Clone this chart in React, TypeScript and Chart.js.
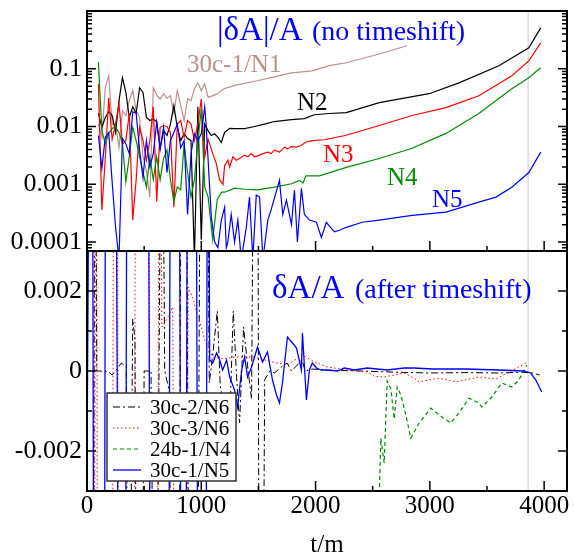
import React, { useEffect, useRef } from 'react';
import { Chart, registerables } from 'chart.js';

Chart.register(...registerables);

// ---------------- axis values ----------------
const xTickValues = [0, 1000, 2000, 3000, 4000];
const xMinorTickValues = [500, 1500, 2500, 3500];
const topTickValues = [0.0001, 0.001, 0.01, 0.1];
const topTickLabels = ['0.0001', '0.001', '0.01', '0.1'];
const bottomTickValues = [-0.002, 0, 0.002];
const bottomTickLabels = ['-0.002', '0', '0.002'];
const bottomMinorTickValues = [-0.001, 0.001];
const matchTime = 3860;

// ---------------- top panel: |dA|/A (no timeshift) ----------------
const noisyT = [100, 130, 160, 190, 220, 250, 280, 310, 340, 370, 400, 430, 460, 490, 520, 550,
  580, 610, 640, 670, 700, 730, 760, 790, 820, 850, 880, 910, 940, 970, 1000, 1030];

const n1NoisyV = [0.011, 0.0065, 0.047, 0.076, 0.011, 0.011, 0.0043, 0.019, 0.0155, 0.028, 0.042, 0.019,
  0.0143, 0.003, 0.0017, 0.0006, 0.047, 0.035, 0.03, 0.037, 0.031, 0.034, 0.017, 0.042, 0.023, 0.0127,
  0.03, 0.028, 0.045, 0.057, 0.042, 0.055];
const n1T = [1060, 1130, 1200, 1300, 1490, 1684, 1790, 1972, 2120, 2269, 2557, 2800];
const n1V = [0.032, 0.036, 0.045, 0.052, 0.062, 0.076, 0.085, 0.092, 0.113, 0.127, 0.18, 0.25];

const n2NoisyV = [0.017, 0.0097, 0.0143, 0.018, 0.0155, 0.0079, 0.028, 0.07, 0.039, 0.0143, 0.022, 0.017,
  0.047, 0.039, 0.0143, 0.0127, 0.0135, 0.012, 0.0043, 0.0085, 0.007, 0.011, 0.023, 0.0097, 0.0057,
  0.0075, 0.0062, 0.0057, 0.00005, 0.022, 0.00011, 0.011];
const n2T = [1059, 1088, 1117, 1146, 1175, 1204, 1248, 1291, 1379, 1466, 1553, 1640, 1789, 1902, 1990,
  2120, 2269, 2557, 2993, 3255, 3604, 3866, 3970];
const n2V = [0.0085, 0.007, 0.0075, 0.0065, 0.0053, 0.0079, 0.0093, 0.0092, 0.0092, 0.010, 0.011, 0.0122,
  0.0132, 0.0137, 0.016, 0.0168, 0.0174, 0.026, 0.037, 0.057, 0.113, 0.23, 0.51];

const n3NoisyV = [0.055, 0.00036, 0.0028, 0.031, 0.006, 0.011, 0.025, 0.005, 0.0057, 0.017, 0.00024, 0.0012,
  0.0097, 0.0057, 0.0026, 0.0057, 0.022, 0.0005, 0.0097, 0.0104, 0.01, 0.0079, 0.0004, 0.011, 0.0127,
  0.0065, 0.0127, 0.011, 0.0057, 0.011, 0.03, 0.003];
const n3T = [1060, 1100, 1131, 1160, 1190, 1204, 1233, 1248, 1277, 1306, 1335, 1379, 1408, 1437, 1466,
  1495, 1539, 1582, 1611, 1640, 1684, 1728, 1757, 1786, 1830, 1873, 1917, 1972, 2077, 2260, 2557, 2845,
  3141, 3429, 3717, 3866, 3970];
const n3V = [0.006, 0.0034, 0.0023, 0.0012, 0.001, 0.0021, 0.0026, 0.002, 0.003, 0.0026, 0.0028, 0.0032,
  0.003, 0.0034, 0.003, 0.0031, 0.0034, 0.0036, 0.0034, 0.0039, 0.0036, 0.0044, 0.0041, 0.0045, 0.0044,
  0.0047, 0.0054, 0.0057, 0.0059, 0.007, 0.0104, 0.0155, 0.0213, 0.034, 0.076, 0.137, 0.28];

const n4NoisyV = [0.13, 0.0085, 0.005, 0.0075, 0.0093, 0.0097, 0.0079, 0.0051, 0.0011, 0.003, 0.0097, 0.0057,
  0.003, 0.0016, 0.0009, 0.003, 0.0012, 0.003, 0.0012, 0.0028, 0.0039, 0.0012, 0.0005, 0.0009, 0.0008,
  0.005, 0.0016, 0.0006, 0.0012, 0.0057, 0.02, 0.0009];
const n4T = [1060, 1100, 1140, 1178, 1204, 1291, 1380, 1490, 1640, 1789, 1859, 1890, 1915, 2033, 2269,
  2557, 2845, 3141, 3429, 3717, 3866, 3970];
const n4V = [0.0006, 0.00011, 0.00055, 0.00073, 0.00073, 0.00086, 0.00082, 0.0008, 0.00089, 0.00102,
  0.00117, 0.00105, 0.0014, 0.0014, 0.00196, 0.0028, 0.0042, 0.0076, 0.0168, 0.045, 0.07, 0.104];

const n5NoisyV = [0.007, 0.0019, 0.0065, 0.0079, 0.0011, 0.00018, 0.00005, 0.0062, 0.005, 0.0034, 0.018,
  0.017, 0.0039, 0.0013, 0.0057, 0.002, 0.0034, 0.012, 0.004, 0.0097, 0.0016, 0.0057, 0.0079, 0.011,
  0.0043, 0.0057, 0.0003, 0.0034, 0.0075, 0.0057, 0.0075, 0.022];
const n5T = [1042, 1088, 1117, 1146, 1175, 1204, 1219, 1232, 1262, 1291, 1320, 1350, 1394, 1422, 1451,
  1481, 1510, 1539, 1582, 1611, 1684, 1713, 1745, 1789, 1815, 1841, 1876, 1902, 1946, 2007, 2051, 2094,
  2120, 2164, 2208, 2269, 2408, 2557, 2845, 3141, 3429, 3578, 3717, 3866, 3970];
const n5V = [0.011, 0.00027, 0.0001, 0.00008, 0.00024, 0.0004, 0.00008, 0.0001, 0.0003, 0.0001, 0.00024,
  0.00005, 0.00018, 0.0006, 0.00005, 0.00065, 0.0006, 0.00005, 0.00024, 0.00036, 0.00117, 0.0003, 0.00053,
  0.0002, 0.00079, 0.0001, 0.00085, 0.0003, 0.00024, 0.00022, 0.00012, 0.00022, 0.00019, 0.00015, 0.00016,
  0.00018, 0.00022, 0.00024, 0.00029, 0.00033, 0.00049, 0.0006, 0.00089, 0.0016, 0.0036];

// ---------------- bottom panel: dA/A (after timeshift) ----------------
const c2T = [40, 55, 70, 85, 120, 150, 180, 220, 250, 300, 345, 360, 400, 420, 440, 470, 500, 520, 560, 600,
  637, 650, 680, 720, 750, 800, 830, 860, 900, 960, 1000, 1040, 1070, 1100, 1140, 1165, 1200, 1248, 1280,
  1310, 1335, 1370, 1410, 1440, 1470, 1490, 1510, 1530, 1555, 1600, 1640, 1700, 1750, 1790, 1840, 1880,
  1910, 1970, 2100, 2400, 2700, 3000, 3300, 3600, 3800, 3900, 3960];
const c2V = [-0.012, -0.012, 0.012, 0, 0, -0.00003, 0, -0.0001, 0, 0.0002, 0.0001, -0.012, 0.0013, 0.0008,
  -0.012, -0.012, 0, 0, 0, -0.012, 0.0028, 0.012, 0, -0.0005, -0.012, -0.012, 0.012, 0.012, -0.012, -0.012,
  0.012, 0.012, -0.0003, 0.0004, 0.0015, -0.0003, -0.0012, -0.0013, 0.0015, -0.0002, -0.0013, 0.0011, 0,
  -0.0007, 0.012, 0.012, -0.012, -0.012, -0.00022, 0, -0.00005, 0.0001, 0.0002, 0, 0.00015, 0.00028, 0,
  0.00005, 0.00002, 0, -0.00003, -0.00005, -0.00004, -0.00005, -0.00003, -0.00005, -0.0001];

const c3T = [60, 80, 95, 220, 236, 262, 279, 410, 428, 535, 550, 620, 637, 655, 700, 750, 775, 860, 885, 930,
  960, 1000, 1030, 1100, 1200, 1300, 1466, 1614, 1754, 1885, 1990, 2103, 2278, 2452, 2513, 2600, 2775,
  2862, 2906, 3080, 3229, 3429, 3578, 3691, 3778, 3839];
const c3V = [-0.012, 0.012, -0.012, -0.012, 0.012, 0.012, -0.012, -0.012, 0.012, 0.012, -0.0031, -0.0031,
  0.012, 0.0011, 0.0013, 0.0016, -0.012, -0.012, 0.0021, 0.0018, 0.00145, 0.0011, 0.00078, 0.00035, 0.0003,
  0.00035, 0.00035, 0.00023, 0.00015, 0.0004, 0.00023, 0.0001, 0.00002, -0.00002, -0.00013, -0.00015,
  -0.00005, -0.00018, -0.00027, -0.00018, -0.00027, -0.00015, -0.0002, -0.00003, 0.0001, 0.0002];

const b24T = [2540, 2571, 2600, 2627, 2659, 2688, 2714, 2746, 2790, 2833, 2906, 3008, 3106, 3182, 3255,
  3342, 3429, 3456, 3543, 3630, 3717, 3778, 3848];
const b24V = [-0.005, -0.00168, -0.0023, -0.00025, -0.00045, -0.0012, -0.0004, -0.0006, -0.0011, -0.00168,
  -0.0013, -0.00093, -0.00115, -0.0013, -0.00105, -0.00068, -0.0008, -0.0009, -0.00065, -0.0003, -0.0004,
  -0.00023, 0.00015];

const c1T = [0, 30, 45, 62, 150, 165, 250, 262, 285, 310, 340, 355, 530, 560, 710, 735, 800, 830, 860, 885,
  950, 975, 1035, 1060, 1073, 1100, 1134, 1161, 1187, 1222, 1248, 1291, 1318, 1353, 1379, 1405, 1440, 1466,
  1492, 1536, 1579, 1623, 1658, 1684, 1710, 1754, 1798, 1833, 1876, 1885, 1920, 1946, 1972, 2007, 2051,
  2103, 2190, 2251, 2339, 2452, 2627, 2775, 2862, 3019, 3316, 3604, 3822, 3883, 3927, 3979];
const c1V = [-0.0025, 0.012, 0.012, -0.012, -0.012, 0.012, 0.012, 0.001, -0.012, -0.0032, -0.0032, 0.012,
  0.012, -0.012, -0.012, 0.012, 0.012, -0.012, -0.012, 0.012, 0.012, -0.012, -0.012, 0.012, 0.000275,
  0.0002, 0.00045, 0.000275, 0.000025, 0.000275, -0.00015, -0.000475, -0.0009, 0.000025, 0.00035, -0.00015,
  0.0001, 0.00035, 0.0006, 0.000225, 0.000475, -0.000225, -0.0006, -0.0008, -0.0003, 0.00085, 0.0007,
  0.000575, 0.000025, 0.00095, -0.000725, 0.000025, 0.0002, 0.000075, 0.000025, 0.000025, 0, 0.000075,
  0.000025, 0.000075, 0.000025, 0.000075, 0.000075, 0.00005, 0.00005, 0.000025, 0, -0.00005, -0.000225,
  -0.000525];

const legendLabels = ['30c-2/N6', '30c-3/N6', '24b-1/N4', '30c-1/N5'];

// ---------------- styling ----------------
const SERIF = '"Liberation Serif", "Times New Roman", serif';
const BROWN = '#bc8f8f';
const GREEN = '#008c00';
const BLUE = '#0000ff';
const PLOT_TOP = 11;

const pts = (ts: number[], vs: number[]) => ts.map((t, i) => ({ x: t, y: vs[i] }));

const panelPlugin = {
  id: 'panelPlugin',
  afterLayout(chart: any) {
    const { chartArea, scales } = chart;
    chartArea.top = PLOT_TOP;
    chartArea.height = chartArea.bottom - PLOT_TOP;
    const yt = scales.yTop;
    const yb = scales.yBottom;
    const mid = Math.round((PLOT_TOP + chartArea.bottom) / 2);
    yt.top = PLOT_TOP; yt.bottom = mid; yt.height = mid - PLOT_TOP;
    yb.top = mid; yb.bottom = chartArea.bottom; yb.height = chartArea.bottom - mid;
    yt.configure();
    yb.configure();
  },
  beforeDatasetsDraw(chart: any) {
    const { ctx, chartArea, scales } = chart;
    const x = scales.x.getPixelForValue(matchTime);
    ctx.save();
    ctx.strokeStyle = '#dcdcdc';
    ctx.lineWidth = 1.5;
    ctx.beginPath();
    ctx.moveTo(x, scales.yTop.top);
    ctx.lineTo(x, chartArea.bottom);
    ctx.stroke();
    ctx.restore();
  },
  beforeDatasetDraw(chart: any, args: any) {
    const { ctx, chartArea } = chart;
    const ys = chart.scales[args.meta.yAxisID];
    ctx.save();
    ctx.beginPath();
    ctx.rect(chartArea.left, ys.top, chartArea.right - chartArea.left, ys.bottom - ys.top);
    ctx.clip();
  },
  afterDatasetDraw(chart: any) {
    chart.ctx.restore();
  },
  afterDatasetsDraw(chart: any) {
    const { ctx, chartArea, scales } = chart;
    const xs = scales.x;
    const yt = scales.yTop;
    const yb = scales.yBottom;
    const L = chartArea.left;
    const R = chartArea.right;
    ctx.save();
    ctx.strokeStyle = '#000';
    ctx.lineWidth = 1.5;
    const hTick = (y: number, len: number) => {
      ctx.beginPath();
      ctx.moveTo(L, y); ctx.lineTo(L + len, y);
      ctx.moveTo(R, y); ctx.lineTo(R - len, y);
      ctx.stroke();
    };
    topTickValues.forEach(v => hTick(yt.getPixelForValue(v), 9));
    for (let d = -5; d <= 0; d++) {
      for (let k = 2; k <= 9; k++) {
        const v = k * Math.pow(10, d);
        if (v > yt.min && v < yt.max) hTick(yt.getPixelForValue(v), 5);
      }
    }
    bottomTickValues.forEach(v => hTick(yb.getPixelForValue(v), 9));
    bottomMinorTickValues.forEach(v => hTick(yb.getPixelForValue(v), 5));
    const vTicks = (yBase: number) => {
      xTickValues.forEach(v => {
        const px = xs.getPixelForValue(v);
        ctx.beginPath(); ctx.moveTo(px, yBase); ctx.lineTo(px, yBase - 10); ctx.stroke();
      });
      xMinorTickValues.forEach(v => {
        const px = xs.getPixelForValue(v);
        ctx.beginPath(); ctx.moveTo(px, yBase); ctx.lineTo(px, yBase - 5); ctx.stroke();
      });
    };
    vTicks(yb.bottom);
    vTicks(yt.bottom);

    // frames
    ctx.lineWidth = 2;
    ctx.strokeRect(L, yt.top, R - L, yt.bottom - yt.top);
    ctx.strokeRect(L, yb.top, R - L, yb.bottom - yb.top);

    // panel titles
    ctx.textBaseline = 'alphabetic';
    ctx.textAlign = 'left';
    ctx.fillStyle = BLUE;
    ctx.font = `33px ${SERIF}`;
    ctx.fillText('|\u03b4A|/A', 217, 40);
    ctx.font = `28px ${SERIF}`;
    ctx.fillText('(no timeshift)', 312, 40);
    ctx.font = `33px ${SERIF}`;
    ctx.fillText('\u03b4A/A', 272, 298);
    ctx.font = `28px ${SERIF}`;
    ctx.fillText('(after timeshift)', 355, 298);

    // curve labels
    ctx.font = `25px ${SERIF}`;
    ctx.fillStyle = BROWN; ctx.fillText('30c-1/N1', 187, 72);
    ctx.fillStyle = '#000'; ctx.fillText('N2', 297, 110);
    ctx.fillStyle = '#ff0000'; ctx.fillText('N3', 323, 162);
    ctx.fillStyle = GREEN; ctx.fillText('N4', 387, 185);
    ctx.fillStyle = BLUE; ctx.fillText('N5', 432, 207);

    // legend box
    const bx = 107, by = 393, bw = 129, bh = 88;
    ctx.fillStyle = '#fff';
    ctx.fillRect(bx, by, bw, bh);
    ctx.strokeStyle = '#333';
    ctx.lineWidth = 1.5;
    ctx.strokeRect(bx, by, bw, bh);
    const legendStyles = [
      { color: '#000', dash: [7, 3, 2, 3], width: 1 },
      { color: '#ff0000', dash: [1.5, 2.5], width: 1 },
      { color: GREEN, dash: [4, 3], width: 1.2 },
      { color: BLUE, dash: [], width: 1.3 },
    ];
    ctx.font = `21px ${SERIF}`;
    ctx.textBaseline = 'middle';
    legendLabels.forEach((lab, i) => {
      const y = 407 + i * 21;
      const st = legendStyles[i];
      ctx.strokeStyle = st.color;
      ctx.lineWidth = st.width;
      ctx.setLineDash(st.dash);
      ctx.beginPath(); ctx.moveTo(113, y); ctx.lineTo(141, y); ctx.stroke();
      ctx.setLineDash([]);
      ctx.fillStyle = '#000';
      ctx.fillText(lab, 150, y + 1);
    });
    ctx.restore();
  },
};

export default function App() {
  const ref = useRef<HTMLCanvasElement | null>(null);
  useEffect(() => {
    if (!ref.current) return;
    const tickFont = { family: SERIF, size: 26 };
    const line = (data: any[], color: string, yAxisID: string, width: number, dash: number[] = []) => ({
      data, borderColor: color, backgroundColor: color, borderWidth: width, borderDash: dash,
      pointRadius: 0, tension: 0, fill: false, yAxisID, xAxisID: 'x',
    });
    const chart = new Chart(ref.current, {
      type: 'line',
      data: {
        datasets: [
          line(pts(c1T, c1V), BLUE, 'yBottom', 1.3),
          line(pts(b24T, b24V), GREEN, 'yBottom', 1.2, [4, 3]),
          line(pts(c3T, c3V), '#ff0000', 'yBottom', 1, [1.5, 2.5]),
          line(pts(c2T, c2V), '#000', 'yBottom', 1, [7, 3, 2, 3]),
          line(pts([...noisyT, ...n5T], [...n5NoisyV, ...n5V]), BLUE, 'yTop', 1.2),
          line(pts([...noisyT, ...n4T], [...n4NoisyV, ...n4V]), GREEN, 'yTop', 1.2),
          line(pts([...noisyT, ...n3T], [...n3NoisyV, ...n3V]), '#ff0000', 'yTop', 1.2),
          line(pts([...noisyT, ...n2T], [...n2NoisyV, ...n2V]), '#000', 'yTop', 1.2),
          line(pts([...noisyT, ...n1T], [...n1NoisyV, ...n1V]), BROWN, 'yTop', 1.2),
        ],
      },
      options: {
        animation: false,
        responsive: false,
        devicePixelRatio: 1,
        parsing: false,
        normalized: true,
        layout: { padding: { top: 11, right: 7, left: 0, bottom: 0 } },
        plugins: { legend: { display: false }, tooltip: { enabled: false }, title: { display: false } },
        scales: {
          x: {
            type: 'linear', position: 'bottom', min: 0, max: 4200,
            afterBuildTicks: (s: any) => { s.ticks = xTickValues.map(v => ({ value: v })); },
            afterFit: (s: any) => { s.height = 67; },
            grid: { display: false, drawTicks: false },
            border: { display: false },
            ticks: { font: { family: SERIF, size: 25 }, color: '#000', padding: 0, maxRotation: 0, autoSkip: false,
              callback: (v: any) => String(v) },
            title: { display: true, text: 't/m', color: '#000', padding: 0,
              font: { family: SERIF, size: 25, lineHeight: 1 } },
          },
          yBottom: {
            type: 'linear', position: 'left', stack: 'panels', stackWeight: 1, min: -0.003, max: 0.003,
            afterBuildTicks: (s: any) => { s.ticks = bottomTickValues.map(v => ({ value: v })); },
            afterFit: (s: any) => { s.width = 87; },
            grid: { display: false, drawTicks: false },
            border: { display: false },
            ticks: { font: tickFont, color: '#000', padding: 5, autoSkip: false,
              callback: (v: any) => { const i = bottomTickValues.indexOf(v); return i >= 0 ? bottomTickLabels[i] : ''; } },
          },
          yTop: {
            type: 'logarithmic', position: 'left', stack: 'panels', stackWeight: 1, min: 0.00007, max: 1,
            afterBuildTicks: (s: any) => { s.ticks = topTickValues.map(v => ({ value: v })); },
            afterFit: (s: any) => { s.width = 87; },
            grid: { display: false, drawTicks: false },
            border: { display: false },
            ticks: { font: tickFont, color: '#000', padding: 5, autoSkip: false,
              callback: (v: any) => { const i = topTickValues.indexOf(v); return i >= 0 ? topTickLabels[i] : ''; } },
          },
        },
      } as any,
      plugins: [panelPlugin],
    });
    return () => chart.destroy();
  }, []);
  return (
    <div style={{ position: 'absolute', left: 0, top: 0, width: 574, height: 558, background: '#fff' }}>
      <canvas ref={ref} width={574} height={558} />
    </div>
  );
}
